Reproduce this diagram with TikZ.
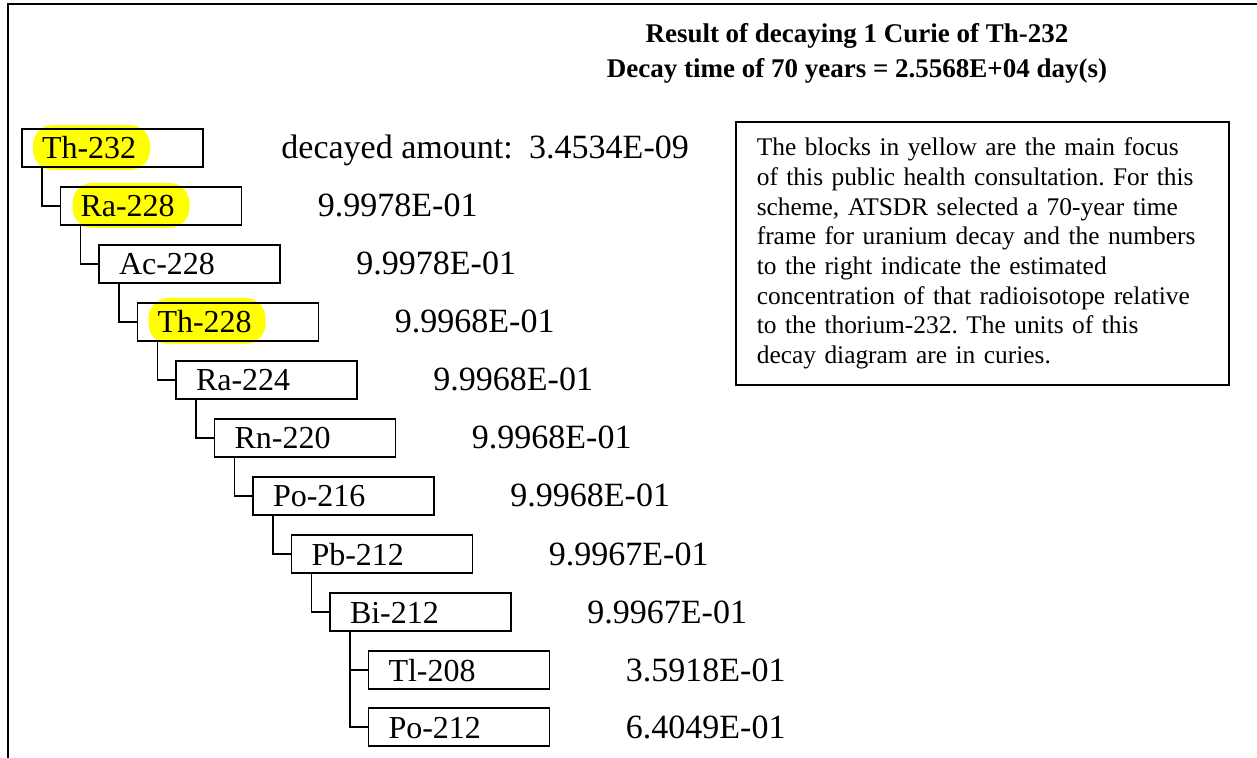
\documentclass[tikz,border=0pt]{standalone}
\usepackage{fontspec}
\setmainfont{Liberation Serif}
\usetikzlibrary{positioning,backgrounds}
\definecolor{hiliteyellow}{RGB}{255,255,0}
\frenchspacing

\tikzset{
  isotope/.style={draw, line width=0.7pt, anchor=north west, outer sep=0pt,
    text width=70.5pt, inner xsep=10pt, inner ysep=0pt, minimum height=19pt,
    text height=13pt, text depth=2pt, font=\fontsize{16}{19}\selectfont},
  daughter/.style={below=10pt of #1.south west, anchor=north west, xshift=19.25pt},
  amount/.style={inner sep=0pt, text height=13pt, text depth=2pt,
    font=\fontsize{17}{19}\selectfont},
  branch/.style={line width=0.7pt},
  hilite/.style={fill=hiliteyellow, rounded corners=10pt},
}

\begin{document}
\begin{tikzpicture}[x=0.5pt, y=-0.5pt]
    \useasboundingbox (0,0) rectangle (1257,758);
    % frame
    \draw[line width=1.1pt] (1257,4) -| (8,758);

    % title
    \node[anchor=north, align=center, font=\fontsize{13.5}{17.5}\selectfont\bfseries] (title) at (857,16)
        {Result of decaying 1 Curie of Th-232\\Decay time of 70 years = 2.5568E+04 day(s)};

    % decay chain
    \node[isotope] (th232) at (22,129) {Th-232};
    \node[isotope, daughter=th232] (ra228) {Ra-228};
    \node[isotope, daughter=ra228] (ac228) {Ac-228};
    \node[isotope, daughter=ac228] (th228) {Th-228};
    \node[isotope, daughter=th228] (ra224) {Ra-224};
    \node[isotope, daughter=ra224] (rn220) {Rn-220};
    \node[isotope, daughter=rn220] (po216) {Po-216};
    \node[isotope, daughter=po216] (pb212) {Pb-212};
    \node[isotope, daughter=pb212] (bi212) {Bi-212};
    \node[isotope, daughter=bi212] (tl208) {Tl-208};
    \node[isotope, below=9.5pt of tl208.south west, anchor=north west] (po212) {Po-212};

    % yellow blocks
    \begin{scope}[on background layer]
        \fill[hilite] ([shift={(5.5pt,2pt)}]th232.north west) rectangle ++(58.5pt,-22.5pt);
        \fill[hilite] ([shift={(6pt,2pt)}]ra228.north west) rectangle ++(58.5pt,-22.5pt);
        \fill[hilite] ([shift={(5.5pt,2.5pt)}]th228.north west) rectangle ++(58.5pt,-23pt);
    \end{scope}

    % connectors
    \draw[branch] ([xshift=10pt]th232.south west) |- (ra228.west);
    \draw[branch] ([xshift=10pt]ra228.south west) |- (ac228.west);
    \draw[branch] ([xshift=10pt]ac228.south west) |- (th228.west);
    \draw[branch] ([xshift=10pt]th228.south west) |- (ra224.west);
    \draw[branch] ([xshift=10pt]ra224.south west) |- (rn220.west);
    \draw[branch] ([xshift=10pt]rn220.south west) |- (po216.west);
    \draw[branch] ([xshift=10pt]po216.south west) |- (pb212.west);
    \draw[branch] ([xshift=10pt]pb212.south west) |- (bi212.west);
    \draw[branch] ([xshift=10pt]bi212.south west) |- (tl208.west);
    \draw[branch] ([xshift=10pt]bi212.south west) |- (po212.west);

    % amounts
    \node[amount, right=39pt of th232] (a232) {decayed amount:\hspace{4pt} 3.4534E-09};
    \node[amount, right=38pt of ra228] (a228) {9.9978E-01};
    \node[amount, right=38pt of ac228] (aac228) {9.9978E-01};
    \node[amount, right=38pt of th228] (ath228) {9.9968E-01};
    \node[amount, right=38pt of ra224] (ara224) {9.9968E-01};
    \node[amount, right=38pt of rn220] (arn220) {9.9968E-01};
    \node[amount, right=38pt of po216] (apo216) {9.9968E-01};
    \node[amount, right=38pt of pb212] (apb212) {9.9967E-01};
    \node[amount, right=38pt of bi212] (abi212) {9.9967E-01};
    \node[amount, right=38pt of tl208] (atl208) {3.5918E-01};
    \node[amount, right=38pt of po212] (apo212) {6.4049E-01};

    % note
    \node[draw, line width=0.8pt, anchor=north west, text width=225.5pt, inner xsep=10.5pt,
          inner ysep=8pt, minimum height=131pt, align=left,
          font=\fontsize{12.7}{14.85}\selectfont] (note) at (735,121)
        {The blocks in yellow are the main focus\\
         of this public health consultation. For this\\
         scheme, ATSDR selected a 70-year time\\
         frame for uranium decay and the numbers\\
         to the right indicate the estimated\\
         concentration of that radioisotope relative\\
         to the thorium-232. The units of this\\
         decay diagram are in curies.};
\end{tikzpicture}
\end{document}
